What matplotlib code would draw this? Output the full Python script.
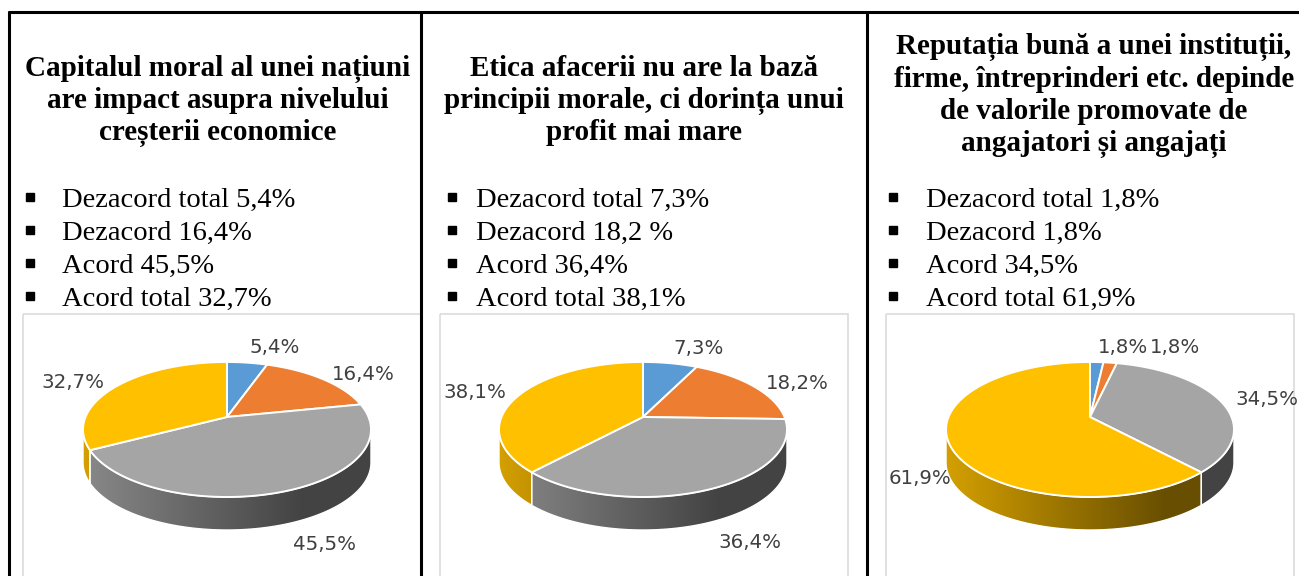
import numpy as np
import matplotlib.pyplot as plt
import matplotlib.colors as mcolors
from matplotlib.patches import Polygon, Rectangle

# data - three survey statements, answer shares in percent
categories = ["Dezacord total", "Dezacord", "Acord", "Acord total"]
values_capital = [5.4, 16.4, 45.5, 32.7]
values_etica = [7.3, 18.2, 36.4, 38.1]
values_reputatie = [1.8, 1.8, 34.5, 61.9]

titles = [
    ["Capitalul moral al unei națiuni", "are impact asupra nivelului",
     "creșterii economice"],
    ["Etica afacerii nu are la bază", "principii morale, ci dorința unui",
     "profit mai mare"],
    ["Reputația bună a unei instituții,", "firme, întreprinderi etc. depinde",
     "de valorile promovate de", "angajatori și angajați"],
]

bullets = [
    ["Dezacord total 5,4%", "Dezacord 16,4%", "Acord 45,5%", "Acord total 32,7%"],
    ["Dezacord total 7,3%", "Dezacord 18,2 %", "Acord 36,4%", "Acord total 38,1%"],
    ["Dezacord total 1,8%", "Dezacord 1,8%", "Acord 34,5%", "Acord total 61,9%"],
]

colors = ["#5B9BD5", "#ED7D31", "#A5A5A5", "#FFC000"]

# layout (pixels)
W, H = 1299, 576
CY = 417          # pie centre (y)
A, B = 141.5, 65.2  # pie half axes before perspective
K = 0.185         # perspective strength
DEPTH = 33        # pie thickness

fig = plt.figure(figsize=(W / 100, H / 100), dpi=100)
ax = fig.add_axes([0, 0, 1, 1])
ax.set_xlim(0, W)
ax.set_ylim(H, 0)
ax.axis("off")


def project(cx, theta, r=1.0):
    """Project a point of the pie disk (angle clockwise from top) to the page."""
    x = r * np.sin(theta)
    y = -r * np.cos(theta)
    w = 1 - K * y
    return cx + A * x / w, CY + B * y / w


def fmt(v):
    return f"{v:.1f}".replace(".", ",") + "%"


def draw_pie(cx, vals):
    fracs = np.array(vals) / sum(vals)
    edges = np.concatenate([[0], np.cumsum(fracs)]) * 2 * np.pi
    theta_r = np.arccos(-K)
    theta_l = 2 * np.pi - theta_r
    u = np.linspace(0, 1, 256)
    shade = 0.84 - 0.43 * np.clip(u / 0.75, 0, 1)

    # side walls (front half only)
    for i, (a, b) in enumerate(zip(edges[:-1], edges[1:])):
        s, e = max(a, theta_r), min(b, theta_l)
        if s >= e:
            continue
        t = np.linspace(s, e, 150)
        xs, ys = project(cx, t)
        pts = np.column_stack([np.r_[xs, xs[::-1]],
                               np.r_[ys, ys[::-1] + DEPTH]])
        poly = Polygon(pts, closed=True, facecolor="none",
                       edgecolor="white", lw=1.0, zorder=2)
        ax.add_patch(poly)
        base = np.array(mcolors.to_rgb(colors[i]))
        img = (base[None, :] * shade[:, None])[None, :, :]
        im = ax.imshow(img, extent=(cx - A * 1.05, cx + A * 1.05,
                                    CY + B * 1.4 + DEPTH, CY - B),
                       aspect="auto", interpolation="bilinear", zorder=1.5)
        im.set_clip_path(poly)

    # top faces
    for i, (a, b) in enumerate(zip(edges[:-1], edges[1:])):
        t = np.linspace(a, b, 150)
        xs, ys = project(cx, t)
        pts = np.column_stack([np.r_[cx, xs], np.r_[CY, ys]])
        ax.add_patch(Polygon(pts, closed=True, facecolor=colors[i],
                             edgecolor="white", lw=1.4, joinstyle="round",
                             zorder=3))

    # data labels, placed outside the rim
    labels = []
    for i, (a, b) in enumerate(zip(edges[:-1], edges[1:])):
        mid = (a + b) / 2
        sx, sy = np.sin(mid), -np.cos(mid)
        lx, ly = project(cx, mid, r=1.12)
        if sy > 0:
            ly += DEPTH
        ha = "left" if sx >= 0 else "right"
        if abs(sy) < 0.7:
            va = "center"
            if sy > 0:
                # front side labels sit against the wall
                lx = project(cx, mid, r=0.98)[0]
        elif sy < 0:
            va = "bottom"
        else:
            va = "top"
        labels.append(ax.text(lx, ly, fmt(vals[i]), ha=ha, va=va,
                              fontsize=14.2, color="#404040",
                              family="DejaVu Sans", zorder=5))

    # push a label to the right if it runs into the previous one
    renderer = fig.canvas.get_renderer()
    for prev, cur in zip(labels[:-1], labels[1:]):
        bp = prev.get_window_extent(renderer)
        bc = cur.get_window_extent(renderer)
        if bc.x0 < bp.x1 and bc.x1 > bp.x0 and bc.y0 < bp.y1 and bc.y1 > bp.y0:
            x, y = cur.get_position()
            cur.set_position((x + (bp.x1 - bc.x0) + 2, y))


# table grid
lw_table = 2.2
ax.plot([8, W], [12, 12], color="black", lw=lw_table, solid_capstyle="butt")
for xl in [9, 421, 867]:
    ax.plot([xl, xl], [11, H + 5], color="black", lw=lw_table,
            solid_capstyle="butt")

# chart frames
box_x = [23, 440, 886]
col_clip = [(9, 421), (421, 867), (867, W)]
for x0, (c0, c1) in zip(box_x, col_clip):
    frame = Rectangle((x0, 314), 408, 400, fill=False,
                      edgecolor="#D9D9D9", lw=1.1, zorder=1)
    ax.add_patch(frame)
    frame.set_clip_path(Rectangle((c0, 0), c1 - c0, H,
                                  transform=ax.transData))

# titles
title_cx = [218, 644, 1094]
title_base = [[76, 108, 140], [76, 108, 140], [54, 87, 119, 151]]
for cx, lines, bases in zip(title_cx, titles, title_base):
    for line, yb in zip(lines, bases):
        ax.text(cx, yb, line, ha="center", va="baseline", fontsize=21,
                fontweight="bold", family="Liberation Serif")

# bullet lists
bullet_x = [30, 452, 893]
text_x = [62, 476, 926]
for bx, tx, items in zip(bullet_x, text_x, bullets):
    for j, item in enumerate(items):
        yb = 207 + j * 33
        ax.plot(bx, yb - 10, marker="s", ms=5.2, color="black")
        ax.text(tx, yb, item, ha="left", va="baseline", fontsize=20.5,
                family="Liberation Serif")

# pies
pie_cx = [227, 643, 1090]
for cx, vals in zip(pie_cx, [values_capital, values_etica, values_reputatie]):
    draw_pie(cx, vals)

ax.set_xlim(0, W)
ax.set_ylim(H, 0)

fig.savefig("out.png", dpi=100)
